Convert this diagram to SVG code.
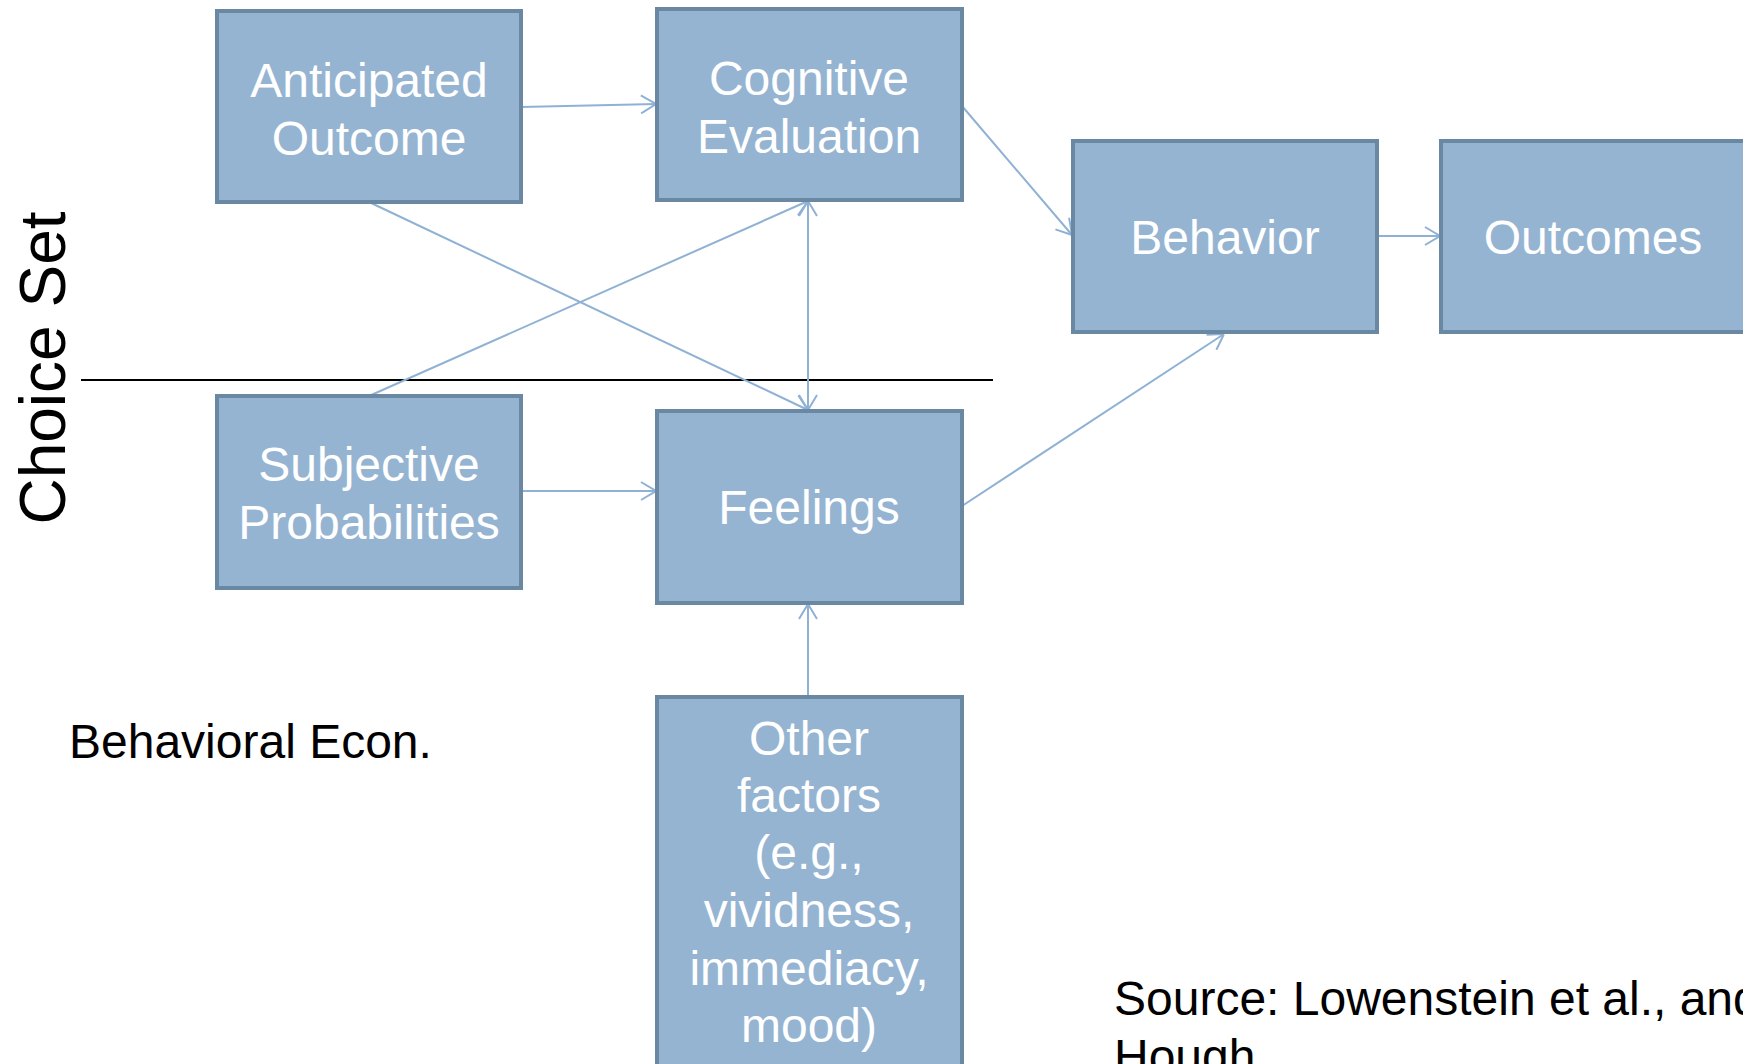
<svg xmlns="http://www.w3.org/2000/svg" width="1743" height="1064" viewBox="0 0 1743 1064">
<style>
.box{fill:#95b4d2;stroke:#6b88a2;stroke-width:4}
.lbl{font-family:"Liberation Sans",Arial,sans-serif;font-size:48px;fill:#ffffff;text-anchor:middle}
.txt{font-family:"Liberation Sans",Arial,sans-serif;font-size:48px;fill:#000000}
.con{stroke:#8fb1d4;stroke-width:2;fill:none}
</style>
<defs>
<marker id="arr" viewBox="0 0 16 20" refX="16" refY="10" markerWidth="16" markerHeight="20" markerUnits="userSpaceOnUse" orient="auto-start-reverse">
<path d="M1,1 L16,10 L1,19" fill="none" stroke="#8fb1d4" stroke-width="2"/>
</marker>
</defs>
<rect width="1743" height="1064" fill="#ffffff"/>
<line x1="81" y1="380" x2="993" y2="380" stroke="#000000" stroke-width="2"/>
<text class="txt" transform="translate(65,368) rotate(-90)" text-anchor="middle" style="font-size:64px">Choice Set</text>
<text class="txt" x="69" y="758">Behavioral Econ.</text>
<text class="txt" x="1114" y="1015">Source: Lowenstein et al., and</text>
<text class="txt" x="1114" y="1073">Hough</text>
<g id="connectors">
<line class="con" x1="521" y1="107" x2="656" y2="104" marker-end="url(#arr)"/>
<line class="con" x1="369" y1="202" x2="808" y2="410" marker-end="url(#arr)"/>
<line class="con" x1="369" y1="396" x2="808" y2="201" marker-end="url(#arr)"/>
<line class="con" x1="808" y1="201" x2="808" y2="410" marker-start="url(#arr)" marker-end="url(#arr)"/>
<line class="con" x1="962" y1="106" x2="1072" y2="235" marker-end="url(#arr)"/>
<line class="con" x1="1377" y1="236" x2="1440" y2="236" marker-end="url(#arr)"/>
<line class="con" x1="521" y1="491" x2="656" y2="491" marker-end="url(#arr)"/>
<line class="con" x1="962" y1="506" x2="1224" y2="334" marker-end="url(#arr)"/>
<line class="con" x1="808" y1="697" x2="808" y2="604" marker-end="url(#arr)"/>
</g>
<g id="anticipated">
<rect class="box" x="217" y="11" width="304" height="191"/>
<text class="lbl" x="369" y="97">Anticipated</text>
<text class="lbl" x="369" y="155">Outcome</text>
</g>
<g id="cognitive">
<rect class="box" x="657" y="9" width="305" height="191"/>
<text class="lbl" x="809" y="95">Cognitive</text>
<text class="lbl" x="809" y="153">Evaluation</text>
</g>
<g id="behavior">
<rect class="box" x="1073" y="141" width="304" height="191"/>
<text class="lbl" x="1225" y="254">Behavior</text>
</g>
<g id="outcomes">
<rect class="box" x="1441" y="141" width="304" height="191"/>
<text class="lbl" x="1593" y="254">Outcomes</text>
</g>
<g id="subjective">
<rect class="box" x="217" y="396" width="304" height="192"/>
<text class="lbl" x="369" y="481">Subjective</text>
<text class="lbl" x="369" y="539">Probabilities</text>
</g>
<g id="feelings">
<rect class="box" x="657" y="411" width="305" height="192"/>
<text class="lbl" x="809" y="524">Feelings</text>
</g>
<g id="other">
<rect class="box" x="657" y="697" width="305" height="380"/>
<text class="lbl" x="809" y="755">Other</text>
<text class="lbl" x="809" y="812">factors</text>
<text class="lbl" x="809" y="869">(e.g.,</text>
<text class="lbl" x="809" y="927">vividness,</text>
<text class="lbl" x="809" y="985">immediacy,</text>
<text class="lbl" x="809" y="1042">mood)</text>
</g>
</svg>
